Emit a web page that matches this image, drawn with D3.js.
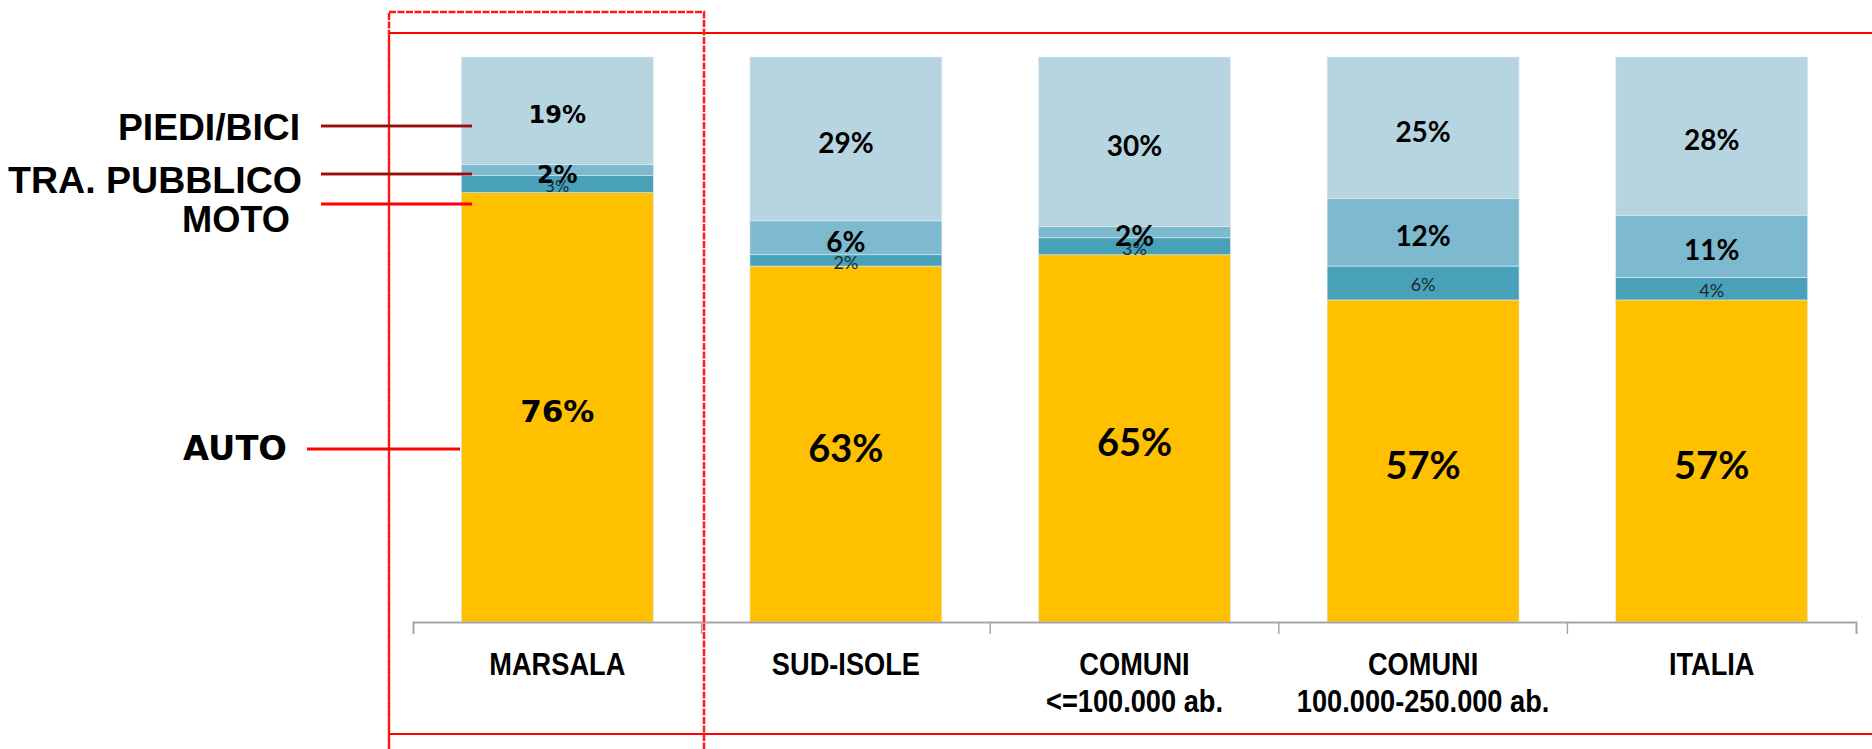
<!DOCTYPE html>
<html><head><meta charset="utf-8">
<script src="https://cdn.jsdelivr.net/npm/d3@7"></script>
<style>html,body{margin:0;padding:0;background:#fff;}svg{display:block;}</style>
</head><body>
<svg id="c" width="1872" height="749"></svg>
<script>
const categories = ["MARSALA", "SUD-ISOLE", "COMUNI|<=100.000 ab.", "COMUNI|100.000-250.000 ab.", "ITALIA"];
const series = ["AUTO", "MOTO", "TRA. PUBBLICO", "PIEDI/BICI"];
const auto = [76, 63, 65, 57, 57];
const moto = [3, 2, 3, 6, 4];
const pubblico = [2, 6, 2, 12, 11];
const piediBici = [19, 29, 30, 25, 28];
const colors = ["#FFC000", "#48A1B9", "#7DB9CF", "#B7D5E0"];

const svg = d3.select("#c");
const x = d3.scaleBand().domain(categories).range([413, 1856]).paddingInner(0.335).paddingOuter(0.1675);
const y = d3.scaleLinear().domain([0, 100]).range([622, 57]);

const rows = categories.map((c, i) => ({cat: c, "AUTO": auto[i], "MOTO": moto[i], "TRA. PUBBLICO": pubblico[i], "PIEDI/BICI": piediBici[i], idx: i}));
const stack = d3.stack().keys(series)(rows);

// bars
const layers = svg.append("g").selectAll("g").data(stack).join("g").attr("fill", (d, i) => colors[i]);
layers.selectAll("rect").data(d => d).join("rect")
  .attr("x", d => x(d.data.cat))
  .attr("width", x.bandwidth())
  .attr("y", d => y(d[1]))
  .attr("height", d => y(d[0]) - y(d[1]))
  .attr("stroke", "#dfeaef").attr("stroke-width", 0.6);

// value labels
function labelStyle(si, ci) {
  const marsala = ci === 0;
  const fam = marsala ? "DejaVu Sans" : "Lato";
  if (si === 0) return {fam, size: marsala ? 31 : 38, weight: "bold"};
  if (si === 1) return {fam, size: marsala ? 15 : 18, weight: "normal"};
  return {fam, size: marsala ? 24 : 28, weight: "bold"};
}
stack.forEach((layer, si) => {
  svg.append("g").selectAll("text").data(layer).join("text")
    .each(function(d) {
      const st = labelStyle(si, d.data.idx);
      d3.select(this)
        .attr("x", x(d.data.cat) + x.bandwidth() / 2)
        .attr("y", (y(d[0]) + y(d[1])) / 2 + (si === 1 ? 2 : 4))
        .attr("dy", "0.36em")
        .attr("text-anchor", "middle")
        .attr("font-family", st.fam)
        .attr("font-size", st.size)
        .attr("font-weight", st.weight)
        .attr("fill", si === 1 ? "#1a2a30" : "#000")
        .text(Math.round(d[1] - d[0]) + "%");
    });
});

// axis
const axis = d3.axisBottom(x).tickSize(0).tickSizeOuter(12).tickFormat("");
const ag = svg.append("g").attr("transform", "translate(0,622)").call(axis);
ag.select(".domain").attr("stroke", "#a6a6a6").attr("stroke-width", 2);
ag.selectAll(".tick").remove();
const bounds = d3.range(1, categories.length).map(i => x.range()[0] + i * x.step());
ag.selectAll("line.b").data(bounds).join("line").attr("class", "b")
  .attr("x1", d => d).attr("x2", d => d).attr("y1", 0).attr("y2", 12)
  .attr("stroke", "#a6a6a6").attr("stroke-width", 1.5);

// category labels (condensed)
categories.forEach(c => {
  const parts = c.split("|");
  const cx = x(c) + x.bandwidth() / 2;
  const t = svg.append("text")
    .attr("transform", `translate(${cx},0) scale(0.85,1)`)
    .attr("text-anchor", "middle")
    .attr("font-family", "'Liberation Sans Narrow', 'Arial Narrow', 'Liberation Sans', sans-serif")
    .attr("font-weight", "bold").attr("font-size", 32).attr("fill", "#000");
  parts.forEach((p, k) => t.append("tspan").attr("x", 0).attr("y", 675 + k * 37).text(p));
});

// frames
svg.append("path").attr("d", "M389,750 V33 H1874 M389,734 H1874")
  .attr("fill", "none").attr("stroke", "#ff0000").attr("stroke-width", 2);
svg.append("rect").attr("x", 389).attr("y", 12).attr("width", 315).attr("height", 760)
  .attr("fill", "none").attr("stroke", "#ff1a1a").attr("stroke-width", 2.5).attr("stroke-dasharray", "7,1.5");

// series legend labels on the left with leader lines
const legend = [
  {name: "PIEDI/BICI", ty: 140, ly: 126, x1: 321, x2: 472, dark: true, fam: "Liberation Sans", size: 36, right: 300, len: 182},
  {name: "TRA. PUBBLICO", ty: 193, ly: 174, x1: 321, x2: 472, dark: true, fam: "Liberation Sans", size: 36, right: 302, len: 294},
  {name: "MOTO", ty: 232, ly: 204, x1: 321, x2: 472, dark: false, fam: "Liberation Sans", size: 36, right: 290, len: 108},
  {name: "AUTO", ty: 460, ly: 449, x1: 307, x2: 460, dark: false, fam: "DejaVu Sans", size: 33, right: 287, len: 104}
];
legend.forEach(l => {
  svg.append("line").attr("x1", l.x1).attr("x2", l.x2).attr("y1", l.ly).attr("y2", l.ly)
    .attr("stroke", "#ff0000").attr("stroke-width", 3);
  if (l.dark) {
    svg.append("line").attr("x1", l.x1).attr("x2", l.x2).attr("y1", l.ly).attr("y2", l.ly)
      .attr("stroke", "#3a2a2a").attr("stroke-width", 1.4);
  }
  svg.append("text").attr("x", l.right - l.len).attr("y", l.ty).attr("text-anchor", "start")
    .attr("textLength", l.len).attr("lengthAdjust", "spacingAndGlyphs")
    .attr("font-family", l.fam).attr("font-weight", "bold").attr("font-size", l.size).attr("fill", "#000")
    .text(l.name);
});
</script>
</body></html>
